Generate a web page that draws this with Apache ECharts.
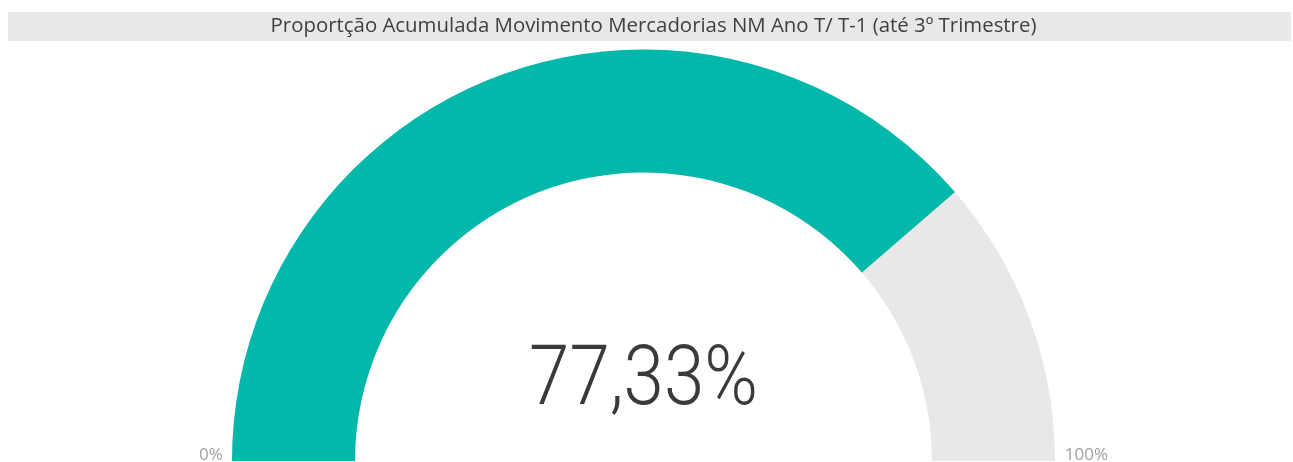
<!DOCTYPE html>
<html>
<head>
<meta charset="utf-8">
<script src="https://cdn.jsdelivr.net/npm/echarts@6/dist/echarts.min.js"></script>
<style>
html,body{margin:0;padding:0;background:#fff;}
#chart{width:1293px;height:462px;}
</style>
</head>
<body>
<div id="chart"></div>
<script>
const titleText = 'Proportção Acumulada Movimento Mercadorias NM Ano T/ T-1 (até 3º Trimestre)';
const gaugeMin = 0;
const gaugeMax = 100;
const gaugeValue = [77.33];
const tickLabels = ['0%', '100%'];

const chart = echarts.init(document.getElementById('chart'));
const valueText = gaugeValue[0].toFixed(2).replace('.', ',') + '%';

chart.setOption({
  animation: false,
  backgroundColor: '#ffffff',
  title: {
    text: titleText,
    left: 653.5,
    textAlign: 'center',
    top: 15,
    padding: 0,
    textStyle: {
      fontFamily: 'Open Sans',
      fontSize: 20.4,
      fontWeight: 'normal',
      color: '#404040',
      lineHeight: 23
    }
  },
  graphic: [
    {
      type: 'rect',
      z: -10,
      shape: { x: 8, y: 12, width: 1283, height: 29 },
      style: { fill: '#E8E8E8' }
    },
    {
      type: 'text',
      x: 643.5,
      y: 383.5,
      scaleX: 0.875,
      z: 10,
      style: {
        text: valueText,
        font: '300 83px Roboto',
        fill: '#3a3a3a',
        align: 'center',
        verticalAlign: 'middle'
      }
    }
  ],
  series: [{
    type: 'gauge',
    center: [643.5, 461],
    radius: 411.5,
    startAngle: 180,
    endAngle: 0,
    min: gaugeMin,
    max: gaugeMax,
    splitNumber: 1,
    axisLine: { lineStyle: { width: 123, color: [[1, '#E8E8E8']] } },
    progress: { show: true, width: 123, itemStyle: { color: '#01B8AA' } },
    pointer: { show: false },
    anchor: { show: false },
    axisTick: { show: false },
    splitLine: { show: false },
    axisLabel: { show: false },
    title: { show: false },
    detail: { show: false },
    data: [{ value: gaugeValue[0] }]
  }, {
    type: 'gauge',
    center: [643.5, 455],
    radius: 411.5,
    startAngle: 180,
    endAngle: 0,
    min: gaugeMin,
    max: gaugeMax,
    splitNumber: 1,
    axisLine: { show: false, lineStyle: { width: 0 } },
    progress: { show: false },
    pointer: { show: false },
    anchor: { show: false },
    axisTick: { show: false },
    splitLine: { show: false, length: 0, distance: 0 },
    axisLabel: {
      distance: -53,
      color: '#a0a0a0',
      fontFamily: 'Open Sans',
      fontSize: 17,
      padding: [0, 0, 0, 20],
      formatter: function (v) { return v === gaugeMin ? tickLabels[0] : tickLabels[1]; }
    },
    title: { show: false },
    detail: { show: false },
    data: [{ value: gaugeValue[0] }]
  }]
});
</script>
</body>
</html>
